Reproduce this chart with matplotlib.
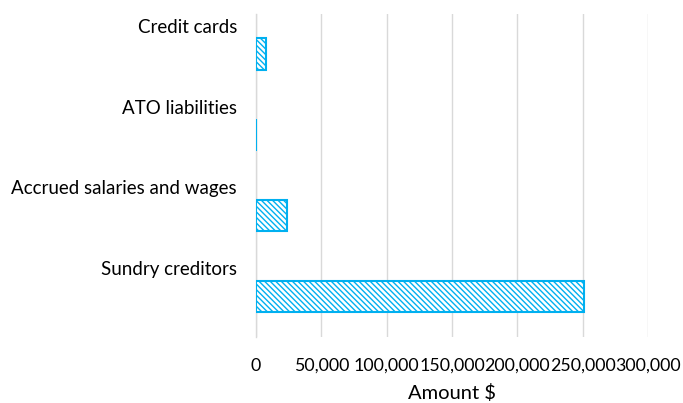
import numpy as np
import matplotlib
matplotlib.use("Agg")
import matplotlib.pyplot as plt
import matplotlib.transforms as mtransforms
from matplotlib.ticker import FuncFormatter

# Data
categories = ["Credit cards", "ATO liabilities", "Accrued salaries and wages", "Sundry creditors"]
amounts = [8000, 100, 23700, 250800]
xticks = [0, 50000, 100000, 150000, 200000, 250000, 300000]

blue = "#00B0F0"
plt.rcParams['font.family'] = ['Lato', 'DejaVu Sans']
plt.rcParams['hatch.linewidth'] = 1.0
plt.rcParams['hatch.color'] = blue

fig = plt.figure(figsize=(6.83, 4.03), dpi=100)
ax = fig.add_axes([256/683, 1-337/403, (648-256)/683, (337-13.5)/403])

y = np.arange(len(categories))
ax.barh(y, amounts, height=0.39, color="white", edgecolor=blue,
        linewidth=1.5, hatch="\\\\\\\\\\\\", zorder=3)

ax.set_ylim(len(categories)-0.5, -0.5)
ax.set_xlim(0, 300000)
ax.set_xticks(xticks)
ax.xaxis.set_major_formatter(FuncFormatter(lambda v, p: f"{int(v):,}"))
ax.tick_params(axis='x', length=0, pad=15, labelsize=12.8, labelcolor="#000000")
ax.set_yticks([])
ax.grid(axis='x', color="#D9D9D9", linewidth=1, zorder=0)
for s in ["top", "right", "bottom"]:
    ax.spines[s].set_visible(False)
ax.spines["left"].set_color("#D9D9D9")
ax.spines["left"].set_linewidth(1)

# category labels sit above each bar, right-aligned left of the axis
trans = mtransforms.blended_transform_factory(ax.transAxes, ax.transData)
for i, c in enumerate(categories):
    ax.text(-19/392, i - 0.33, c, transform=trans, ha="right", va="center",
            fontsize=13.5, color="#000000")

ax.set_xlabel("Amount $", fontsize=14.5, labelpad=7)

plt.savefig("out.png", dpi=100)
